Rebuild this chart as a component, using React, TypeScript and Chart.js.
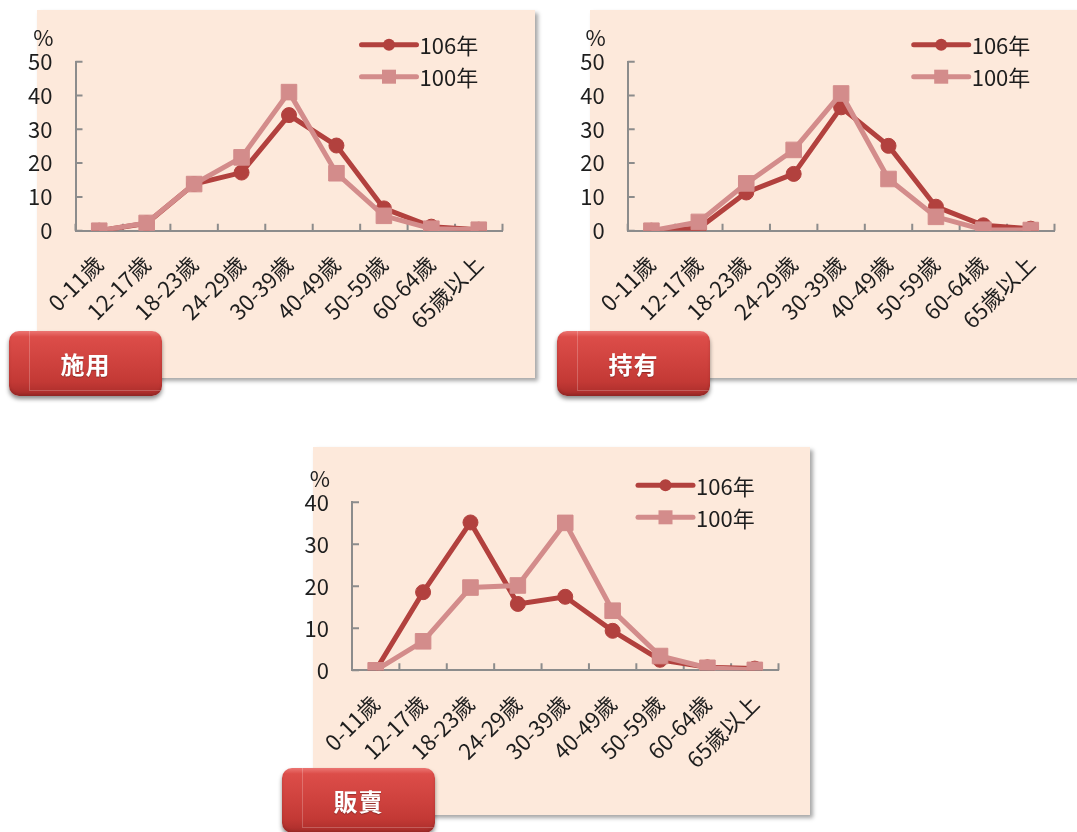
import React, { useEffect, useRef } from "react";
import { Chart, registerables } from "chart.js";

Chart.register(...registerables);

const FONT = '"Noto Sans CJK TC", "Noto Sans", sans-serif';
Chart.defaults.font.family = FONT;

// ---- data ----
const categories = ["0-11歲", "12-17歲", "18-23歲", "24-29歲", "30-39歲", "40-49歲", "50-59歲", "60-64歲", "65歲以上"];
const seriesNames = ["106年", "100年"];

const useValues106 = [0, 2.2, 13.8, 17.2, 34.2, 25.2, 6.6, 1.2, 0.3];
const useValues100 = [0, 2.3, 13.8, 21.7, 41.0, 17.0, 4.4, 0.6, 0.3];

const holdValues106 = [0, 0.7, 11.3, 16.8, 36.5, 25.1, 7.1, 1.6, 0.6];
const holdValues100 = [0, 2.6, 14.0, 23.9, 40.6, 15.3, 4.1, 0.3, 0.2];

const sellValues106 = [0, 18.6, 35.2, 15.8, 17.5, 9.4, 2.5, 0.7, 0.4];
const sellValues100 = [0, 6.9, 19.7, 20.2, 35.1, 14.2, 3.4, 0.6, 0.1];

const yTicks50 = [0, 10, 20, 30, 40, 50];
const yTicks40 = [0, 10, 20, 30, 40];
const unitLabel = "%";
const panelTitles = ["施用", "持有", "販賣"];

const COLOR_106 = "#B2413E";
const COLOR_100 = "#D38C8B";
const AXIS_COLOR = "#8C8C8C";
const TEXT_COLOR = "#1E1E1E";
const EXTRA_LEFT = 40;

const decorPlugin = {
  id: "decor",
  beforeDatasetsDraw(chart: any) {
    const { ctx, chartArea, scales } = chart;
    const y = scales.y;
    ctx.save();
    ctx.strokeStyle = AXIS_COLOR;
    ctx.lineWidth = 2;
    ctx.beginPath();
    y.ticks.forEach((t: any) => {
      const py = y.getPixelForValue(t.value);
      ctx.moveTo(chartArea.left, py);
      ctx.lineTo(chartArea.left + 7, py);
    });
    const n = chart.data.labels.length;
    const w = (chartArea.right - chartArea.left) / n;
    for (let i = 0; i <= n; i++) {
      const px = chartArea.left + i * w;
      ctx.moveTo(px, chartArea.bottom);
      ctx.lineTo(px, chartArea.bottom - 7);
    }
    ctx.stroke();
    ctx.restore();
  },
  afterDraw(chart: any) {
    const { ctx, chartArea } = chart;
    ctx.save();
    ctx.fillStyle = TEXT_COLOR;
    ctx.font = `22px ${FONT}`;
    ctx.textAlign = "right";
    ctx.textBaseline = "middle";
    ctx.fillText(unitLabel, chartArea.left - 22, chartArea.top - 24);

    const order = [0, 1];
    order.forEach((di, row) => {
      const ds = chart.data.datasets[di];
      const ly = chartArea.top - 17 + row * 32;
      const x1 = chartArea.left + 286;
      const x2 = x1 + 55;
      ctx.strokeStyle = ds.borderColor;
      ctx.lineWidth = 5;
      ctx.lineCap = "round";
      ctx.beginPath();
      ctx.moveTo(x1, ly);
      ctx.lineTo(x2, ly);
      ctx.stroke();
      ctx.fillStyle = ds.borderColor;
      const cx = (x1 + x2) / 2;
      if (ds.pointStyle === "circle") {
        ctx.beginPath();
        ctx.arc(cx, ly, 6, 0, Math.PI * 2);
        ctx.fill();
      } else {
        ctx.fillRect(cx - 7, ly - 7, 14, 14);
      }
      ctx.fillStyle = TEXT_COLOR;
      ctx.font = `22px ${FONT}`;
      ctx.textAlign = "left";
      ctx.textBaseline = "middle";
      ctx.fillText(ds.label, x2 + 3, ly + 1);
    });
    ctx.restore();
  },
};

type PanelProps = {
  left: number;
  top: number;
  width: number;
  height: number;
  v106: number[];
  v100: number[];
  yTicks: number[];
  areaTop: number;
  areaBottom: number;
  areaLeft: number;
  areaRight: number;
};

function Panel(p: PanelProps) {
  const ref = useRef<HTMLCanvasElement | null>(null);
  const cw = p.width + EXTRA_LEFT;
  useEffect(() => {
    if (!ref.current) return;
    const yMax = p.yTicks[p.yTicks.length - 1];
    const chart = new Chart(ref.current, {
      type: "line",
      data: {
        labels: categories,
        datasets: [
          {
            label: seriesNames[0],
            data: p.v106,
            borderColor: COLOR_106,
            backgroundColor: COLOR_106,
            pointBackgroundColor: COLOR_106,
            pointBorderColor: COLOR_106,
            borderWidth: 5,
            pointStyle: "circle",
            pointRadius: 7.5,
            pointBorderWidth: 1,
            tension: 0,
            order: 1,
          },
          {
            label: seriesNames[1],
            data: p.v100,
            borderColor: COLOR_100,
            backgroundColor: COLOR_100,
            pointBackgroundColor: COLOR_100,
            pointBorderColor: COLOR_100,
            borderWidth: 5,
            pointStyle: "rect",
            pointRadius: 11,
            pointBorderWidth: 1,
            tension: 0,
            order: 0,
          },
        ],
      },
      options: {
        responsive: false,
        animation: false,
        events: [],
        layout: {
          padding: {
            top: p.areaTop,
            left: 0,
            right: p.width - p.areaRight,
            bottom: 0,
          },
        },
        plugins: {
          legend: { display: false },
          tooltip: { enabled: false },
          title: { display: false },
        },
        scales: {
          x: {
            offset: true,
            grid: { display: false, drawTicks: false, tickLength: 0 },
            border: { display: true, color: AXIS_COLOR, width: 2 },
            ticks: {
              autoSkip: false,
              maxRotation: 45,
              minRotation: 45,
              padding: 20,
              color: TEXT_COLOR,
              font: { size: 22, family: FONT },
            },
            afterFit: (scale: any) => {
              scale.height = p.height - p.areaBottom;
              scale.paddingLeft = 0;
              scale.paddingRight = 0;
            },
          },
          y: {
            min: 0,
            max: yMax,
            grid: { display: false, drawTicks: false, tickLength: 0 },
            border: { display: true, color: AXIS_COLOR, width: 2 },
            afterBuildTicks: (axis: any) => {
              axis.ticks = p.yTicks.map((v) => ({ value: v }));
            },
            ticks: {
              padding: 23,
              color: TEXT_COLOR,
              font: { size: 22, family: FONT },
            },
            afterFit: (scale: any) => {
              scale.width = p.areaLeft + EXTRA_LEFT;
              scale.paddingTop = 0;
              scale.paddingBottom = 0;
            },
          },
        },
      },
      plugins: [decorPlugin],
    });
    return () => chart.destroy();
  }, []);

  return (
    <div
      style={{
        position: "absolute",
        left: p.left,
        top: p.top,
        width: p.width,
        height: p.height,
      }}
    >
      <div
        style={{
          position: "absolute",
          left: 0,
          top: 0,
          width: p.width,
          height: p.height,
          background: "#FDE9DB",
          boxShadow: "3px 3px 4px rgba(0,0,0,0.35)",
        }}
      />
      <canvas
        ref={ref}
        width={cw}
        height={p.height}
        style={{ position: "absolute", left: -EXTRA_LEFT, top: 0, display: "block" }}
      />
    </div>
  );
}

function RedButton({ left, top, text }: { left: number; top: number; text: string }) {
  return (
    <div
      style={{
        position: "absolute",
        left,
        top,
        width: 153,
        height: 65,
        borderRadius: 10,
        background:
          "linear-gradient(180deg, #EC7673 0%, #DC4D49 9%, #D0433F 45%, #C33935 78%, #A82C2A 100%)",
        boxShadow: "0 3px 4px rgba(0,0,0,0.45), inset 0 -2px 3px rgba(0,0,0,0.15)",
        zIndex: 5,
        overflow: "hidden",
      }}
    >
      <div
        style={{
          position: "absolute",
          left: 20,
          top: 0,
          right: 0,
          height: 59,
          borderLeft: "1px solid rgba(255,255,255,0.22)",
          borderBottom: "1px solid rgba(255,255,255,0.22)",
        }}
      />
      <div
        style={{
          position: "absolute",
          left: 0,
          top: 0,
          width: "100%",
          height: "100%",
          display: "flex",
          alignItems: "center",
          justifyContent: "center",
          color: "#FFFFFF",
          fontFamily: FONT,
          fontWeight: 700,
          fontSize: 24,
          textShadow: "0 1px 1px rgba(0,0,0,0.3)",
          letterSpacing: 1,
        }}
      >
        {text}
      </div>
    </div>
  );
}

export default function App() {
  return (
    <div
      style={{
        position: "absolute",
        left: 0,
        top: 0,
        width: 1077,
        height: 832,
        overflow: "hidden",
        background: "#FFFFFF",
      }}
    >
      <Panel
        left={37}
        top={10}
        width={498}
        height={368}
        v106={useValues106}
        v100={useValues100}
        yTicks={yTicks50}
        areaTop={51.7}
        areaBottom={220.7}
        areaLeft={38.5}
        areaRight={465.5}
      />
      <Panel
        left={590}
        top={10}
        width={498}
        height={368}
        v106={holdValues106}
        v100={holdValues100}
        yTicks={yTicks50}
        areaTop={51.7}
        areaBottom={220.7}
        areaLeft={37.7}
        areaRight={464.5}
      />
      <Panel
        left={313}
        top={447}
        width={497}
        height={368}
        v106={sellValues106}
        v100={sellValues100}
        yTicks={yTicks40}
        areaTop={55.3}
        areaBottom={223.3}
        areaLeft={39}
        areaRight={465.5}
      />
      <RedButton left={9} top={331} text={panelTitles[0]} />
      <RedButton left={557} top={331} text={panelTitles[1]} />
      <RedButton left={282} top={768} text={panelTitles[2]} />
    </div>
  );
}
